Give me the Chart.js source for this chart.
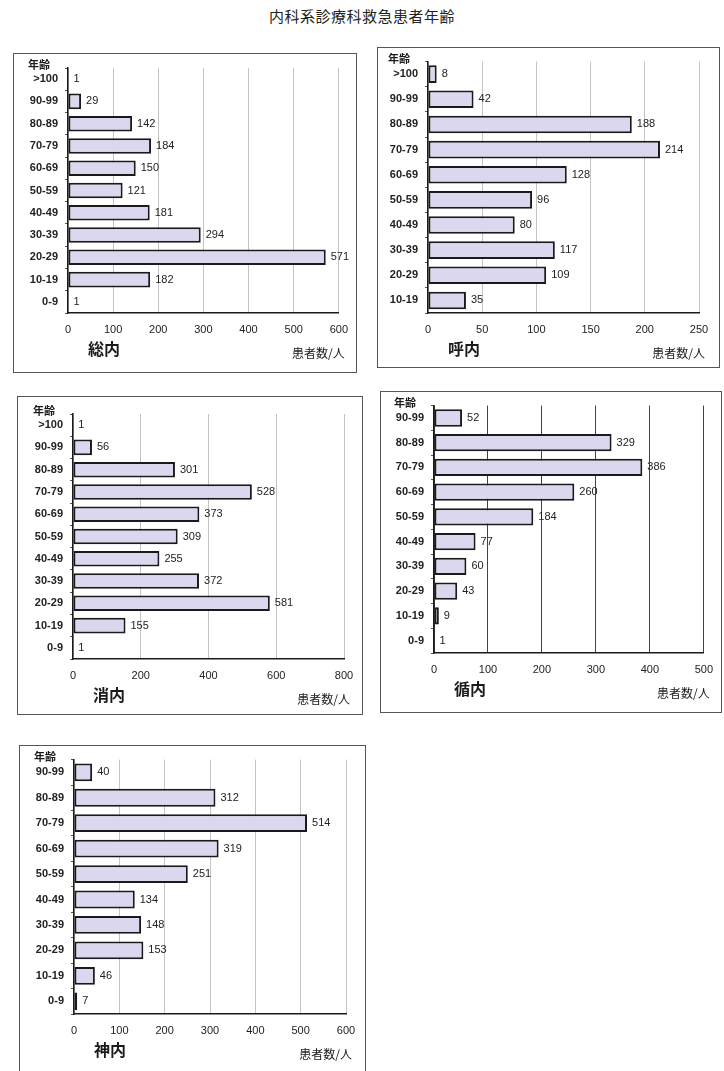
<!DOCTYPE html>
<html>
<head>
<meta charset="utf-8">
<script src="https://cdn.jsdelivr.net/npm/chart.js@4.4.1/dist/chart.umd.min.js"></script>
<style>
  body { margin: 0; background: #fff; }
  #page { position: relative; width: 724px; height: 1071px; overflow: hidden; background: #fff; }
  #title { position: absolute; left: 0; width: 724px; top: 5px; text-align: center;
           font: 15px "Noto Sans CJK JP", sans-serif; color: #222; letter-spacing: 0.5px; }
  .box { position: absolute; border: 1px solid #555; box-sizing: border-box; background: #fff; }
  .box canvas { position: absolute; left: 0; top: 0; }
</style>
</head>
<body>
<div id="page">
  <div id="title">内科系診療科救急患者年齢</div>
</div>
<script>
// age bands, top to bottom
const agesAll = [">100", "90-99", "80-89", "70-79", "60-69", "50-59", "40-49", "30-39", "20-29", "10-19", "0-9"];
const agesResp = [">100", "90-99", "80-89", "70-79", "60-69", "50-59", "40-49", "30-39", "20-29", "10-19"];
const agesTo99 = ["90-99", "80-89", "70-79", "60-69", "50-59", "40-49", "30-39", "20-29", "10-19", "0-9"];

const deptNames = ["総内", "呼内", "消内", "循内", "神内"];
const generalValues = [1, 29, 142, 184, 150, 121, 181, 294, 571, 182, 1];
const respValues = [8, 42, 188, 214, 128, 96, 80, 117, 109, 35];
const gastroValues = [1, 56, 301, 528, 373, 309, 255, 372, 581, 155, 1];
const cardioValues = [52, 329, 386, 260, 184, 77, 60, 43, 9, 1];
const neuroValues = [40, 312, 514, 319, 251, 134, 148, 153, 46, 7];
const axisMax = [600, 250, 800, 500, 600];
const axisStep = [100, 50, 200, 100, 100];

const ageTitle = "年齢";
const unitText = "患者数/人";

// frame and plot rectangles on the page
const panels = [
  { labels: agesAll,  values: generalValues, box: [13, 53, 357, 373],  plot: [67, 67, 341, 312],  grid: "#c4c4c4" },
  { labels: agesResp, values: respValues,    box: [377, 47, 720, 368], plot: [427, 60, 698, 312], grid: "#c4c4c4" },
  { labels: agesAll,  values: gastroValues,  box: [17, 396, 363, 715], plot: [72, 413, 343, 658], grid: "#c4c4c4" },
  { labels: agesTo99, values: cardioValues,  box: [380, 391, 722, 713], plot: [433, 403, 705, 652], grid: "#444" },
  { labels: agesTo99, values: neuroValues,   box: [19, 745, 366, 1075], plot: [73, 757, 345, 1013], grid: "#c4c4c4" }
];

const fontStack = "'Liberation Sans', Arial, sans-serif";
const ageFont = { family: fontStack, size: 11, weight: "bold" };
const countFont = { family: fontStack, size: 11 };

const valueLabels = {
  id: "valueLabels",
  afterDatasetsDraw(chart) {
    const ctx = chart.ctx;
    const meta = chart.getDatasetMeta(0);
    ctx.save();
    ctx.font = "11px " + fontStack;
    ctx.fillStyle = "#222";
    ctx.textBaseline = "middle";
    meta.data.forEach((bar, i) => {
      ctx.fillText(chart.data.datasets[0].data[i], bar.x + 5, bar.y);
    });
    ctx.restore();
  }
};

const panelText = {
  id: "panelText",
  afterDraw(chart, args, opts) {
    const ctx = chart.ctx;
    const a = chart.chartArea;
    ctx.save();
    ctx.fillStyle = "#1a1a1a";
    ctx.textBaseline = "alphabetic";
    ctx.font = "bold 11px 'Noto Sans CJK JP', sans-serif";
    ctx.textAlign = "left";
    ctx.fillText(ageTitle, a.left - 40, a.top + 1);
    ctx.font = "bold 16px 'Noto Sans CJK JP', sans-serif";
    ctx.fillText(opts.name, a.left + 20, a.bottom + 42);
    ctx.font = "12px 'Noto Sans CJK JP', sans-serif";
    ctx.textAlign = "right";
    ctx.fillText(unitText, a.right + 6, a.bottom + 45);
    ctx.restore();
  }
};

const page = document.getElementById("page");

panels.forEach((p, k) => {
  const [bl, bt, br, bb] = p.box;
  const [pl, pt, pr, pb] = p.plot;
  const w = br - bl, h = bb - bt;

  const box = document.createElement("div");
  box.className = "box";
  box.style.left = bl + "px";
  box.style.top = bt + "px";
  box.style.width = w + "px";
  box.style.height = h + "px";
  const canvas = document.createElement("canvas");
  canvas.width = w;
  canvas.height = h;
  canvas.style.width = w + "px";
  canvas.style.height = h + "px";
  box.appendChild(canvas);
  page.appendChild(box);

  new Chart(canvas, {
    type: "bar",
    data: {
      labels: p.labels,
      datasets: [{
        data: p.values,
        backgroundColor: "#dbd7ef",
        borderColor: "#1a1a1a",
        borderWidth: 2,
        borderSkipped: false,
        barPercentage: 0.7,
        categoryPercentage: 1
      }]
    },
    options: {
      indexAxis: "y",
      responsive: false,
      animation: false,
      layout: { padding: { left: 0, top: pt - bt, right: br - pr, bottom: 0 } },
      plugins: {
        legend: { display: false },
        tooltip: { enabled: false },
        panelText: { name: deptNames[k] }
      },
      scales: {
        x: {
          min: 0,
          max: axisMax[k],
          ticks: { stepSize: axisStep[k], color: "#222", font: countFont, padding: 10, maxRotation: 0 },
          grid: { color: p.grid, lineWidth: 1, drawTicks: false },
          border: { display: true, color: "#1a1a1a", width: 1.5 },
          afterFit(scale) { scale.height = bb - pb; }
        },
        y: {
          ticks: { color: "#222", font: ageFont, padding: 7, autoSkip: false },
          grid: { drawOnChartArea: false, tickLength: 3, color: "#555" },
          border: { display: true, color: "#1a1a1a", width: 1.5 },
          afterFit(scale) { scale.width = pl - bl; }
        }
      }
    },
    plugins: [valueLabels, panelText]
  });
});
</script>
</body>
</html>
